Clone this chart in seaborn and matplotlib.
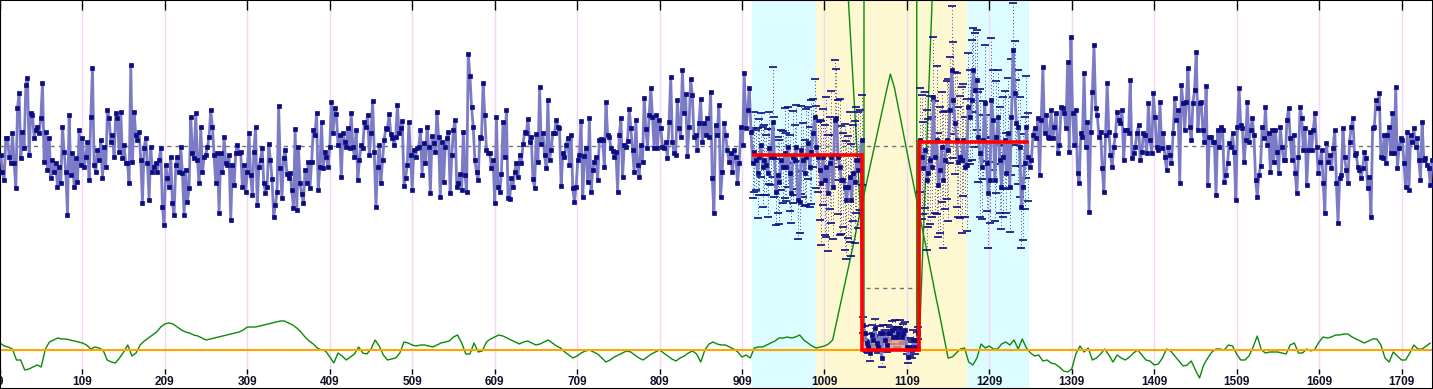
import numpy as np
import matplotlib
matplotlib.use("Agg")
import matplotlib.pyplot as plt
import seaborn as sns

# ---------------- data ----------------
tick_values = [9, 109, 209, 309, 409, 509, 609, 709, 809, 909,
               1009, 1109, 1209, 1309, 1409, 1509, 1609, 1709]
tick_labels = [str(v) for v in tick_values]
x_range = [9, 1747.2]

# observation segments (value relative to overall mean), edges in sample index
seg_edges = [9, 300, 592, 882, 921, 1055, 1124, 1257, 1465, 1747]
obs_a = [-9,-26,-34,8,8,-11,-17,13,-17,-42,38,53,-12,14,-2,61,68,-9,33,31,
         8,16,19,13,28,63,-16,14,-24,8,-32,-14,-26,-17,-41,-21,-37,19,-6,-26,
         -69,31,-29,-7,-41,-12,-36,16,-19,8,-21,-11,4,-34,29,78,-19,-26,-4,-14,
         6,-32,-1,-21,36,28,4,11,-11,33,28,-6,34,-12,1,-17,-17,-37,81,-16,
         34,11,6,14,-14,-57,-2,8,-17,-54,-1,-26,-21,-17,-26,-14,-2,-61,-79,-19,
         -32,-41,-11,-57,-69,-19,-11,-26,-1,-27,-69,-24,-56,-42,29,-7,-12,33,-14,-37,
         19,-26,-11,-9,-1,9,36,19,-9,-37,-7,-67,-7,-26,9,-17,-19,-9,-74,-19,
         -39,-7,1,-7]
obs_b = [-6,-41,-19,-46,-26,13,-29,-49,-6,19,-59,-21,-14,-2,-37,-47,-41,2,-14,-33,
         -71,-59,-46,40,-22,-52,-12,-4,-28,-32,-27,-44,-62,17,-64,-1,-37,-48,-57,-24,
         -37,-16,-42,-16,16,11,33,-44,-21,24,-22,-6,-11,-21,-1,44,13,38,32,1,
         11,-31,13,4,-1,18,-2,33,-1,-11,16,-34,-14,1,-2,24,19,31,-9,13,
         45,-6,-61,-21,1,-37,-14,6,18,17,32,12,8,1,9,41,13,18,25,-40,
         -32,-19,24,-9,-44,-4,-11,-2,-1,16,-29,3,-17,19,-1,-47,10,3,-6,34,
         9,-51,4,-36,-1,8,14,-47,-9,16,26,-41,-37,-28,-44,14,-29,-46,92,70,
         39,19,-14,-26,-34,9]
obs_c = [8,63,31,-4,-7,-7,-22,-14,-57,29,-41,-46,-28,24,-11,36,-52,-53,-32,-41,
         -26,-17,-31,-9,-17,2,14,13,27,4,9,-33,-42,12,-16,59,2,13,-9,-22,
         46,-14,-4,13,13,26,19,18,-40,-7,-11,1,8,-19,11,-42,-56,-41,-14,-9,
         25,-51,-10,-2,-36,28,-46,-24,-16,-11,-34,6,7,6,-21,44,11,9,-2,-5,
         -11,-6,-46,11,28,-31,1,-1,5,37,18,-4,-26,26,-19,-31,1,-16,48,17,
         -2,31,58,29,-2,31,-2,26,18,-1,-2,4,-12,24,69,4,-7,-9,46,18,
         9,76,33,52,-10,19,67,51,9,11,-4,23,47,4,23,11,28,9,54,-32,
         -67,21,11,41]
obs_d = [-51,-26,23,11,-4,-16,-7,-26,-4,-11,-37,-17,19,1,73,18,36,58,14]
obs_e = [-17,-6,-14,-27,-11,1,-21,-14,-19,-27,-2,-11,24,-11,-46,-29,-36,-14,-21,-7,
         -21,-1,-27,-47,-11,-14,-1,-54,-56,-4,-14,-27,-11,3,-21,-6,13,29,-1,-11,
         -24,-37,-11,-34,-21,-47,-17,-11,-41,26,28,-11,-21,-34,-34,-41,-54,-41,-31,-54,
         -27,-36,-14,-24,-14,6]
obs_f = [-179,-187,-197,-201,-207,-189,-194,-182,-197,-201,-187,-212,-187,-194,-199,-187,
         -187,-184,-191,-182,-191,-187,-182,-191,-187,-184,-201,-211,-201,-204,-194,-201,
         -194,-187]
obs_g = [6,-11,-22,-4,-34,-27,-14,-21,49,-11,6,-39,-24,-1,-34,-14,6,-4,36,76,
         46,23,6,-16,-11,-14,6,-21,-19,39,29,46,76,56,66,9,-7,-21,6,43,
         -17,-47,-34,46,26,-34,9,29,-14,-41,-11,6,-27,13,-41,29,96,53,23,19,
         -1,-61,-41,-17,19,-11]
obs_h = [-21,-14,11,18,8,28,-29,26,79,13,31,9,8,36,8,19,33,-7,1,39,
         38,33,18,84,-6,109,33,1,36,-27,-37,13,9,73,-1,24,-66,14,54,101,
         38,31,9,14,-22,-46,11,63,14,-9,-21,-1,11,34,26,23,36,-14,16,16,
         13,66,-12,-7,-1,13,21,-14,-6,13,11,-7,43,6,-7,53,29,-1,-4,44,
         -2,13,-11,-24,-1,-9,-17,13,48,26,36,-37,61,43,16,44,78,19,6,43,
         56,94,16,43]
obs_i = [44,16,4,60,-39,9,9,4,4,-49,16,-1,19,16,-36,-29,-17,3,-1,13,
         -6,-54,19,58,21,18,-16,6,44,4,16,28,11,-34,-51,-29,-20,19,8,39,
         1,13,-26,16,-16,16,-6,-27,19,-1,-14,-14,26,38,8,-14,11,-27,-47,-11,
         39,28,-4,18,-39,-4,14,-4,16,33,-1,-27,-16,-4,-37,-67,3,-16,-9,-22,
         -2,16,-37,-77,-32,-29,18,-11,-24,-37,4,19,28,-9,-7,-21,-24,-32,-22,-6,
         -12,-42,-31,-71,18,19,46,38,53,-11,-12,11,-17,11,19,-7,33,-7,59,-22,
         -2,8,6,-17,-41,14,-44,11,4,18,-1,8,-14,-34,24,-14,-12,-19,-22,-39,-14]

# uncertainties of the observations inside the studied window
err_e = [35,40,30,45,38,32,40,35,30,44,36,28,55,40,33,38,42,30,36,45,34,40,38,30,46,
         35,42,39,31,44,37,33,48,36,40,52,34,38,41,35,
         50,62,48,55,70,58,46,66,52,60,49,57,68,54,47,63,59,51,65,56,48,61,53,58,50,45]
err_f = [8,7,9,6,8,10,7,9,8,6,7,9,8,10,7,8,6,9,7,8,10,6,8,7,9,8,7,6,9,8,10,7,8,6]
err_g = [52,62,46,58,70,54,64,50,60,56,74,52,63,55,68,49,59,71,53,64,58,51,67,55,61,73,56,50,66,
         54,47,60,42,57,50,45,64,52,39,58,48,55,43,62,50,41,56,47,53,42,60,49,40,55,45,58,47,
         52,43,57,50,41,53,46,51,44]

overall_mean = 0
phase_edges = [921, 1055, 1124, 1257]
phase_means = [-9, -204, 4]
low_reference = -142
low_reference_span = [1060, 1120]
zone_edges = [921, 999, 1182, 1257]
zone_names = ["outer", "inner", "outer"]

# secondary statistic (own scale), sampled every 5 indices from 9
green_step = 5
green_a = [7,4,3,1,-10,-10,-20,-19,-17,-15,-17,1,8,10,12,11,11,10,9,8,
           7,5,1,3,2,0,-10,-12,-13,-8,-2,5,-6,-3,5,9,12,15,18,23,
           26,27,26,23,20,18,17,15,14,12,10,11,12,13,14,15,16,17,18,20,
           23,23,23,24,25,26,27,28,29,29,27,25,22,18,13,9,6,2,0,-1,
           -7,-13,-3,-6,-10,-7,-4,3,-3,-4,1,10,4,-5,-10,-9,-8,-3,8,7,
           5,4,5,5,4,3,5,7,8,9,13,15,7,-4,-4,7,-2,-1,8,11,13,15]
green_b = [14,12,10,8,6,8,9,7,5,6,8,10,7,4,2,-2,-5,-8,-6,-3,-1,0,-2,-4,
           -8,-12,-10,-7,-5,-3,-1,-2,-5,-8,-10,-7,-4,-2,0,-3,-6,-9,-11,-8,-6,-3,-1,-4]
green_c = [-12,0,6,8,6,5,5,3,1,-2,-7,-5,-8,2,3,3,5,7,9,12,
           12,13,12,13,15,10,7,4,2,3,4,6,10,29,48,67,86,105,125,144,
           163,182,201,220,239,258,276,262,241,220,199,178,158,137,116,96,75,54,34,13,
           -8,-7,-3,1,2,-12,-15,-8,6,2,4,1,1,6,8,5,10,1,11,2,
           -3,-6,-5,-11,-10,-13,-14,-17,-21,-22,-19,-4,4,-2,2,-10,-8,-4,1,-5,
           -12,-5,-8,-10,-7,-3,0,-5,-10,-11,-15,-14,-8,1,-1,-6,-11,-16,-15,-11,
           -20,-28,-15,-8,-2,1,1,0,5,4,-4,-10,-10,-6,3,14,0,-3,-2,-2,
           -2,-3,-4,5,7,-3,-3,1,-1,1,8,13,12,13,15,15,16,16,13,11,
           9,7,9,11,11,5,-8,-12,-2,-6,-10,-10,-3,5,1,1,4,7]
green_limit = 0
cost_left_x = [1036, 1052, 1057, 1057]
cost_left = [380, 150, 8, 380]
cost_right_x = [1121, 1121, 1124, 1141]
cost_right = [380, 5, 5, 380]

# ---------------- style ----------------
sns.set_theme(style="white")
plt.rcParams['font.family'] = ['Liberation Sans', 'DejaVu Sans']

C_CYAN = '#dcfcff'
C_YELLOW = '#fdf8d2'
zone_color = {"outer": C_CYAN, "inner": C_YELLOW}
C_GRID = '#f2d6f2'
C_LINE = '#7c7cc6'
C_MARK = '#0c0c82'
C_GREEN = '#0a8a0a'
C_ORANGE = '#ffa500'
C_RED = '#ff0000'

fig = plt.figure(figsize=(14.33, 3.89), dpi=100)
ax = fig.add_axes([0, 0, 1, 1])
ax.set_xlim(*x_range)
ax.set_ylim(-39, 350)

for (x0, x1), nm in zip(zip(zone_edges[:-1], zone_edges[1:]), zone_names):
    ax.axvspan(x0, x1, color=zone_color[nm], lw=0, zorder=0)

trans = ax.get_xaxis_transform()
ax.vlines(tick_values, 20 / 389, 379 / 389, transform=trans, color=C_GRID, lw=1, zorder=0.5)
ax.vlines(tick_values, 15 / 389, 20 / 389, transform=trans, color='black', lw=1, zorder=6)

ax.axhline(green_limit, color=C_ORANGE, lw=1.5, zorder=2)
green = np.array(green_a + green_b + green_c, dtype=float)
gx = 9 + green_step * np.arange(len(green))
sns.lineplot(x=gx, y=green, ax=ax, color=C_GREEN, linewidth=1.0, estimator=None,
             sort=False, zorder=1.5)
ax.plot(cost_left_x, cost_left, color=C_GREEN, lw=1.0, zorder=1.5)
ax.plot(cost_right_x, cost_right, color=C_GREEN, lw=1.0, zorder=1.5)

ax.set_xticks(tick_values)
ax.set_xticklabels(tick_labels, fontweight='bold')
ax.tick_params(axis='x', bottom=False, top=True, direction='in', length=7, width=1,
               color='black', labelsize=8.5, pad=-9.5, labelcolor='#101028')
ax.set_yticks([])
for s in ax.spines.values():
    s.set_color('black')
    s.set_linewidth(1.5)

axb = ax.twinx()
axb.set_ylim(-243, 146)
axb.set_yticks([])
for s in axb.spines.values():
    s.set_visible(False)

axb.axhline(overall_mean, color='#707070', lw=1, ls=(0, (3, 3)), zorder=1)
axb.hlines(low_reference, *low_reference_span, color='#707070', lw=1, ls=(0, (3, 3)), zorder=1)

segs = [obs_a, obs_b, obs_c, obs_d, obs_e, obs_f, obs_g, obs_h, obs_i]
xs, ys = [], []
for k, seg in enumerate(segs):
    lo, hi = seg_edges[k], seg_edges[k + 1]
    step = (hi - lo) / len(seg)
    xs.append(lo + step * (np.arange(len(seg)) + 0.5))
    ys.append(np.array(seg, dtype=float))
x_all = np.concatenate(xs)
y_all = np.concatenate(ys)

# error bars in the studied window
for k, err in zip([4, 5, 6], [err_e, err_f, err_g]):
    eb = axb.errorbar(xs[k], ys[k], yerr=err, fmt='none', ecolor=C_MARK, elinewidth=0.6,
                      capsize=2.6, capthick=1.2, zorder=2)
    eb.lines[2][0].set_linestyle((0, (1, 3)))

# shaded deviation in the low phase
axb.fill_between(xs[5], ys[5], phase_means[1], color='#e09a8a', alpha=0.8, lw=0, zorder=2.5)

sns.lineplot(x=x_all, y=y_all, ax=axb, color=C_LINE, linewidth=2.0, estimator=None, sort=False,
             marker='s', markersize=2.2, markerfacecolor=C_MARK, markeredgecolor=C_MARK,
             markeredgewidth=0.5, zorder=3)

axb.stairs(phase_means, phase_edges, baseline=None, color=C_RED, lw=2.6, zorder=5)
axb.set_xlim(*x_range)

fig.savefig('out.png', dpi=100)
